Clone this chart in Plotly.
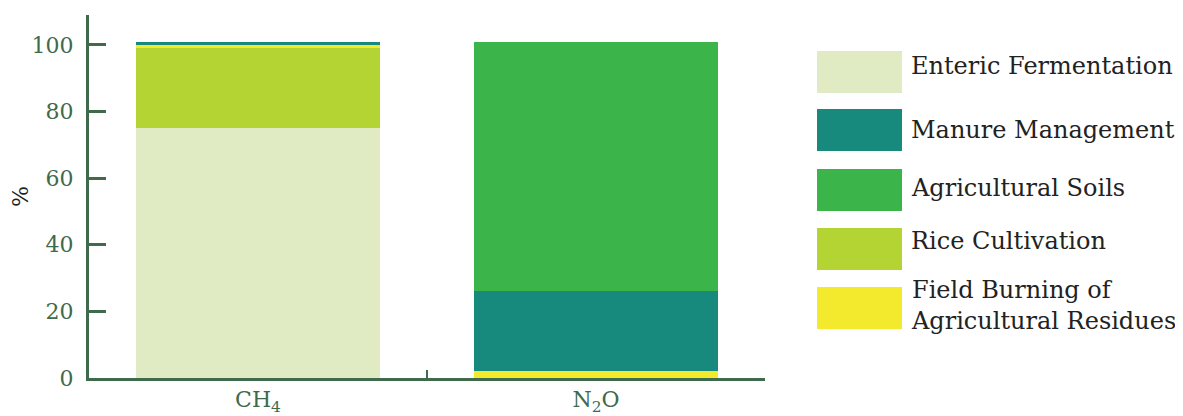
import plotly.graph_objects as go

gases = ["CH<sub>4</sub>", "N<sub>2</sub>O"]

# stacking order, bottom to top
sources = ["Enteric Fermentation", "Rice Cultivation",
           "Field Burning of Agricultural Residues", "Manure Management",
           "Agricultural Soils"]
enteric = [75, 0]
rice = [24, 0]
burning = [1, 2]
manure = [1, 24]
soils = [0, 75]
values = [enteric, rice, burning, manure, soils]
colors = ["#e0ebc4", "#b4d433", "#f3ea2e", "#178a7d", "#3bb44a"]

# legend order as shown on the right
legend_names = ["Enteric Fermentation", "Manure Management", "Agricultural Soils",
                "Rice Cultivation", "Field Burning of<br>Agricultural Residues"]
legend_colors = ["#e0ebc4", "#178a7d", "#3bb44a", "#b4d433", "#f3ea2e"]

axis_green = "#3f6a4c"
FONT = "DejaVu Serif"

fig = go.Figure()
for name, vals, col in zip(sources, values, colors):
    fig.add_trace(go.Bar(x=gases, y=vals, name=name, marker_color=col,
                         marker_line_width=0, showlegend=False))

# page body has an 8px margin, so the figure is a little smaller than the window
OFF = 8
L, R, T, B, W, H = 81, 418, 7, 38, 1183 - OFF, 416 - OFF
pw, ph = W - L - R, H - T - B
px = lambda x: (x - OFF - L) / pw
py = lambda y: (H - B - (y - OFF)) / ph

sw_top = [51, 109, 169, 228, 287]
text_y = [66, 130, 188, 241, 305]
for i, (nm, col) in enumerate(zip(legend_names, legend_colors)):
    fig.add_shape(type="rect", xref="paper", yref="paper",
                  x0=px(817), x1=px(902), y0=py(sw_top[i]), y1=py(sw_top[i] + 42),
                  fillcolor=col, line_width=0)
    fig.add_annotation(xref="paper", yref="paper", x=px(909), y=py(text_y[i]),
                       text=nm, showarrow=False, xanchor="left", yanchor="middle",
                       align="left", font=dict(family=FONT, size=24, color="#222"))

fig.update_layout(
    barmode="stack", bargap=0.28,
    width=W, height=H, margin=dict(l=L, r=R, t=T, b=B, autoexpand=False),
    plot_bgcolor="white", paper_bgcolor="white",
    font=dict(family=FONT, color=axis_green),
    xaxis=dict(range=[-0.5, 1.5], showline=True, linecolor=axis_green, linewidth=3,
               ticks="inside", tickson="boundaries", ticklen=8, tickwidth=2,
               tickcolor=axis_green, showgrid=False, automargin=False,
               tickfont=dict(family=FONT, size=22, color=axis_green)),
    yaxis=dict(range=[0, 109], showline=True, linecolor=axis_green, linewidth=3,
               ticks="inside", ticklen=17, tickwidth=3, tickcolor=axis_green,
               tickvals=[0, 20, 40, 60, 80, 100], showgrid=False, zeroline=False,
               ticklabelstandoff=8, automargin=False,
               tickfont=dict(family=FONT, size=22, color=axis_green),
               title=dict(text="%", standoff=22,
                          font=dict(family=FONT, size=22, color="#222"))),
)

fig.write_html("out.html")
